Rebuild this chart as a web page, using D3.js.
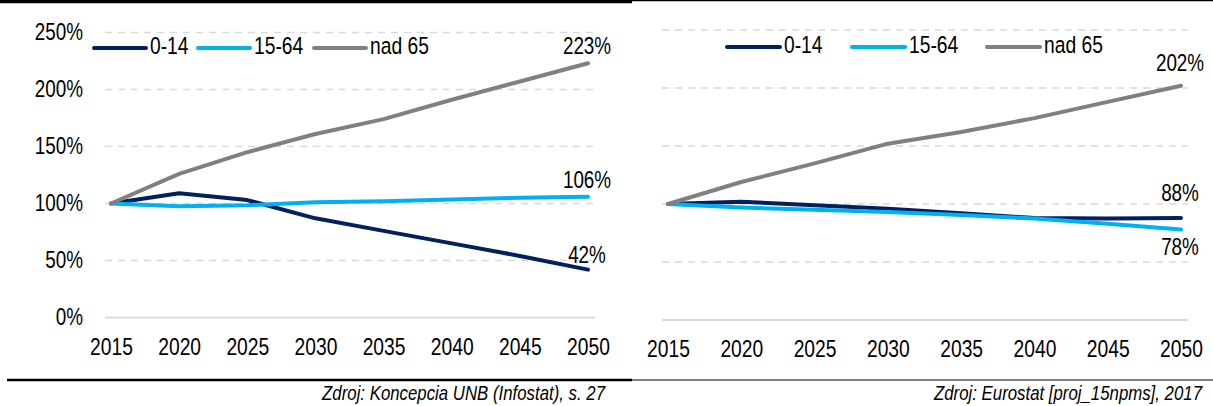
<!DOCTYPE html>
<html lang="sk">
<head>
<meta charset="UTF-8">
<title>Vekove skupiny</title>
<script src="https://cdn.jsdelivr.net/npm/d3@7"></script>
<style>
  body { margin: 0; background: #fff; }
  svg { display: block; font-family: "Liberation Sans", Arial, sans-serif; }
</style>
</head>
<body>
<svg id="chart" width="1213" height="406"></svg>
<script>
const years = [2015, 2020, 2025, 2030, 2035, 2040, 2045, 2050]
const seriesNames = ['0-14', '15-64', 'nad 65']
const seriesColors = ['#002060', '#00B0F0', '#808080']
const yTicks = [0, 50, 100, 150, 200, 250]

// lavy graf - Koncepcia UNB (Infostat)
const leftYoung = [100, 109, 103, 87, 76, 65, 54, 42]
const leftWork = [100, 97.5, 98.5, 101, 102, 103.5, 105, 106]
const leftOld = [100, 126, 145, 161, 174, 191, 207, 223]

// pravy graf - Eurostat
const rightYoung = [100, 102, 99, 96, 92, 88, 87.5, 88]
const rightWork = [100, 97, 95, 93, 90.5, 87.5, 83, 78]
const rightOld = [100, 119, 135, 152, 162, 174, 188, 202]

const NARROW = 0.82   // Arial Narrow ~ zuzeny Arial

const svg = d3.select('#chart')

function narrowText(parent, x, y) {
    return parent.append('text')
        .attr('transform', `translate(${x},${y}) scale(${NARROW},1)`)
}

function drawPanel(cfg) {
    const g = svg.append('g')

    const x = d3.scaleLinear().domain([2015, 2050]).range(cfg.xRange)
    const y = d3.scaleLinear().domain([0, 250]).range(cfg.yRange)

    // mriezka
    g.selectAll('.grid')
        .data(yTicks)
        .enter()
        .append('line')
        .attr('x1', cfg.gridX[0])
        .attr('x2', cfg.gridX[1])
        .attr('y1', d => y(d))
        .attr('y2', d => y(d))
        .attr('stroke', '#D9D9D9')
        .attr('stroke-width', d => d === 0 ? 2 : 1.5)
        .attr('stroke-dasharray', d => d === 0 ? null : '7,6')

    if (cfg.showY) {
        const yAxis = d3.axisLeft(y).tickValues(yTicks).tickSize(0).tickPadding(0)
            .tickFormat(d => d + '%')
        const ya = g.append('g')
            .attr('transform', `translate(${cfg.yLabelX},0)`)
            .call(yAxis)
        ya.select('.domain').remove()
        ya.selectAll('text')
            .attr('font-family', null)
            .attr('font-size', 23)
            .attr('fill', '#000')
            .attr('transform', `scale(${NARROW},1)`)
    }

    const xAxis = d3.axisBottom(x).tickValues(years).tickSize(0).tickPadding(0)
        .tickFormat(d3.format('d'))
    const xa = g.append('g')
        .attr('transform', `translate(0,${cfg.xLabelY})`)
        .call(xAxis)
    xa.select('.domain').remove()
    xa.selectAll('text')
        .attr('font-family', null)
        .attr('font-size', 23.5)
        .attr('fill', '#000')
        .attr('transform', `scale(${NARROW},1)`)

    const line = d3.line()
        .x((d, i) => x(years[i]))
        .y(d => y(d))

    g.selectAll('.series')
        .data(cfg.series)
        .enter()
        .append('path')
        .attr('d', d => line(d))
        .attr('fill', 'none')
        .attr('stroke', (d, i) => seriesColors[i])
        .attr('stroke-width', 4)
        .attr('stroke-linecap', 'round')
        .attr('stroke-linejoin', 'round')

    // popisky poslednej hodnoty
    cfg.labels.forEach(l => {
        const v = cfg.series[l.s][years.length - 1]
        narrowText(g, x(2050) - 1, y(v) + l.dy)
            .attr('text-anchor', 'middle')
            .attr('dominant-baseline', 'middle')
            .attr('font-size', 23)
            .text(Math.round(v) + '%')
    })

    // legenda
    cfg.legendX.forEach((lx, i) => {
        g.append('line')
            .attr('x1', lx)
            .attr('x2', lx + cfg.legendLen)
            .attr('y1', cfg.legendY)
            .attr('y2', cfg.legendY)
            .attr('stroke', seriesColors[i])
            .attr('stroke-width', 4)
            .attr('stroke-linecap', 'round')
        narrowText(g, lx + cfg.legendLen + 4, cfg.legendY)
            .attr('dominant-baseline', 'middle')
            .attr('font-size', 23.5)
            .text(seriesNames[i])
    })

    narrowText(g, cfg.noteX, 395)
        .attr('text-anchor', 'end')
        .attr('dominant-baseline', 'middle')
        .attr('font-style', 'italic')
        .attr('font-size', 20.5)
        .text(cfg.note)
}

drawPanel({
    xRange: [111, 588],
    yRange: [317.5, 32.5],
    gridX: [105, 595],
    showY: true,
    yLabelX: 83,
    xLabelY: 338,
    series: [leftYoung, leftWork, leftOld],
    labels: [{ s: 2, dy: -15 }, { s: 1, dy: -15 }, { s: 0, dy: -13 }],
    legendX: [94, 198, 314],
    legendY: 48,
    legendLen: 52,
    note: 'Zdroj: Koncepcia UNB (Infostat), s. 27',
    noteX: 605
})

drawPanel({
    xRange: [668, 1181],
    yRange: [320, 30],
    gridX: [662, 1188],
    showY: false,
    xLabelY: 340,
    series: [rightYoung, rightWork, rightOld],
    labels: [{ s: 2, dy: -21 }, { s: 0, dy: -23 }, { s: 1, dy: 19 }],
    legendX: [727, 852, 987],
    legendY: 47,
    legendLen: 53,
    note: 'Zdroj: Eurostat [proj_15npms], 2017',
    noteX: 1202
})

// horne a dolne ciary
svg.append('line').attr('x1', 0).attr('x2', 632).attr('y1', 1.5).attr('y2', 1.5)
    .attr('stroke', '#000').attr('stroke-width', 3.5)
svg.append('line').attr('x1', 632).attr('x2', 1213).attr('y1', 0.5).attr('y2', 0.5)
    .attr('stroke', '#000').attr('stroke-width', 1.5)
svg.append('line').attr('x1', 7).attr('x2', 632).attr('y1', 380).attr('y2', 380)
    .attr('stroke', '#000').attr('stroke-width', 2.5)
svg.append('line').attr('x1', 632).attr('x2', 1213).attr('y1', 380).attr('y2', 380)
    .attr('stroke', '#000').attr('stroke-width', 1.2)
</script>
</body>
</html>
